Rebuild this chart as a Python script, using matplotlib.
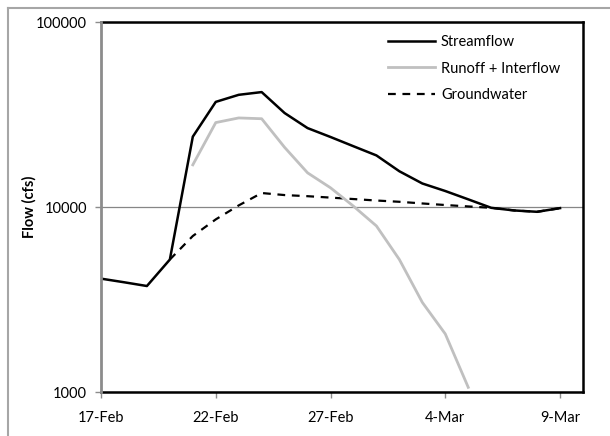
import numpy as np
import pandas as pd
import matplotlib
matplotlib.use("Agg")
import matplotlib.pyplot as plt
import matplotlib.ticker as mticker
from matplotlib.lines import Line2D

plt.rcParams["font.family"] = ["Lato", "DejaVu Sans"]

# daily flows, 17-Feb through 9-Mar
dates = pd.date_range("2011-02-17", "2011-03-09", freq="D")
streamflow = [4100, 3920, 3740, 5200, 24000, 37000, 40400, 41800, 32200, 26700,
              23900, 21300, 19000, 15600, 13400, 12200, 11000, 9900, 9580, 9420, 9860]
runoff = [np.nan, np.nan, np.nan, np.nan, 16900, 28600, 30300, 30000, 21000, 15300,
          12700, 10100, 7900, 5200, 3050, 2060, 1060, np.nan, np.nan, np.nan, np.nan]
groundwater = [np.nan, np.nan, np.nan, 5200, 6970, 8570, 10200, 11900, 11600, 11440,
               11240, 11040, 10840, 10670, 10450, 10250, 10070, 9900, 9580, 9420, 9860]

tick_dates = pd.to_datetime(["2011-02-17", "2011-02-22", "2011-02-27", "2011-03-04", "2011-03-09"])
tick_labels = ["17-Feb", "22-Feb", "27-Feb", "4-Mar", "9-Mar"]
y_ticks = [1000, 10000, 100000]

fig = plt.figure(figsize=(6.10, 4.36), dpi=100)
ax = fig.add_axes([101 / 610, 1 - 392 / 436, 482 / 610, 370 / 436])

# outer chart frame (left and top edges)
fig.add_artist(Line2D([8 / 610, 8 / 610], [0, 1 - 8 / 436], color="#a6a6a6", lw=1.5,
                      transform=fig.transFigure))
fig.add_artist(Line2D([8 / 610, 1], [1 - 8 / 436, 1 - 8 / 436], color="#a6a6a6", lw=1.5,
                      transform=fig.transFigure))

ax.plot(dates, groundwater, color="black", lw=1.6, ls=(0, (3.5, 3)), label="Groundwater", zorder=3)
ax.plot(dates, runoff, color="#c0c0c0", lw=2.0, label="Runoff + Interflow", zorder=4)
ax.plot(dates, streamflow, color="black", lw=1.8, label="Streamflow", zorder=5)

ax.set_yscale("log")
ax.set_ylim(1000, 100000)
ax.set_xlim(pd.Timestamp("2011-02-17"), pd.Timestamp("2011-03-10"))
ax.yaxis.set_major_locator(mticker.FixedLocator(y_ticks))
ax.yaxis.set_major_formatter(mticker.FixedFormatter([str(v) for v in y_ticks]))
ax.yaxis.set_minor_locator(mticker.NullLocator())
ax.set_xticks(tick_dates)
ax.set_xticklabels(tick_labels)
ax.xaxis.set_minor_locator(mticker.NullLocator())

ax.grid(axis="y", color="#868686", lw=0.9, zorder=1)
ax.set_axisbelow(True)

for side in ["top", "right", "bottom"]:
    ax.spines[side].set_color("black")
    ax.spines[side].set_linewidth(1.8)
ax.spines["left"].set_color("#8c8c8c")
ax.spines["left"].set_linewidth(2.0)
ax.spines["left"].set_zorder(6)

ax.tick_params(axis="both", direction="out", length=4, width=1, color="#8c8c8c",
               labelsize=10.5, labelcolor="black")
ax.tick_params(axis="x", pad=10)
ax.tick_params(axis="y", pad=6)

ax.set_ylabel("Flow (cfs)", fontsize=10.5, fontweight="bold", labelpad=0)

handles, labels = ax.get_legend_handles_labels()
order = [2, 1, 0]
ax.legend([handles[i] for i in order], [labels[i] for i in order],
          loc="upper right", bbox_to_anchor=(0.98, 1.0), frameon=False,
          fontsize=10.5, handlelength=3.2, handletextpad=0.4, labelspacing=0.85)

fig.savefig("out.png", dpi=100)
